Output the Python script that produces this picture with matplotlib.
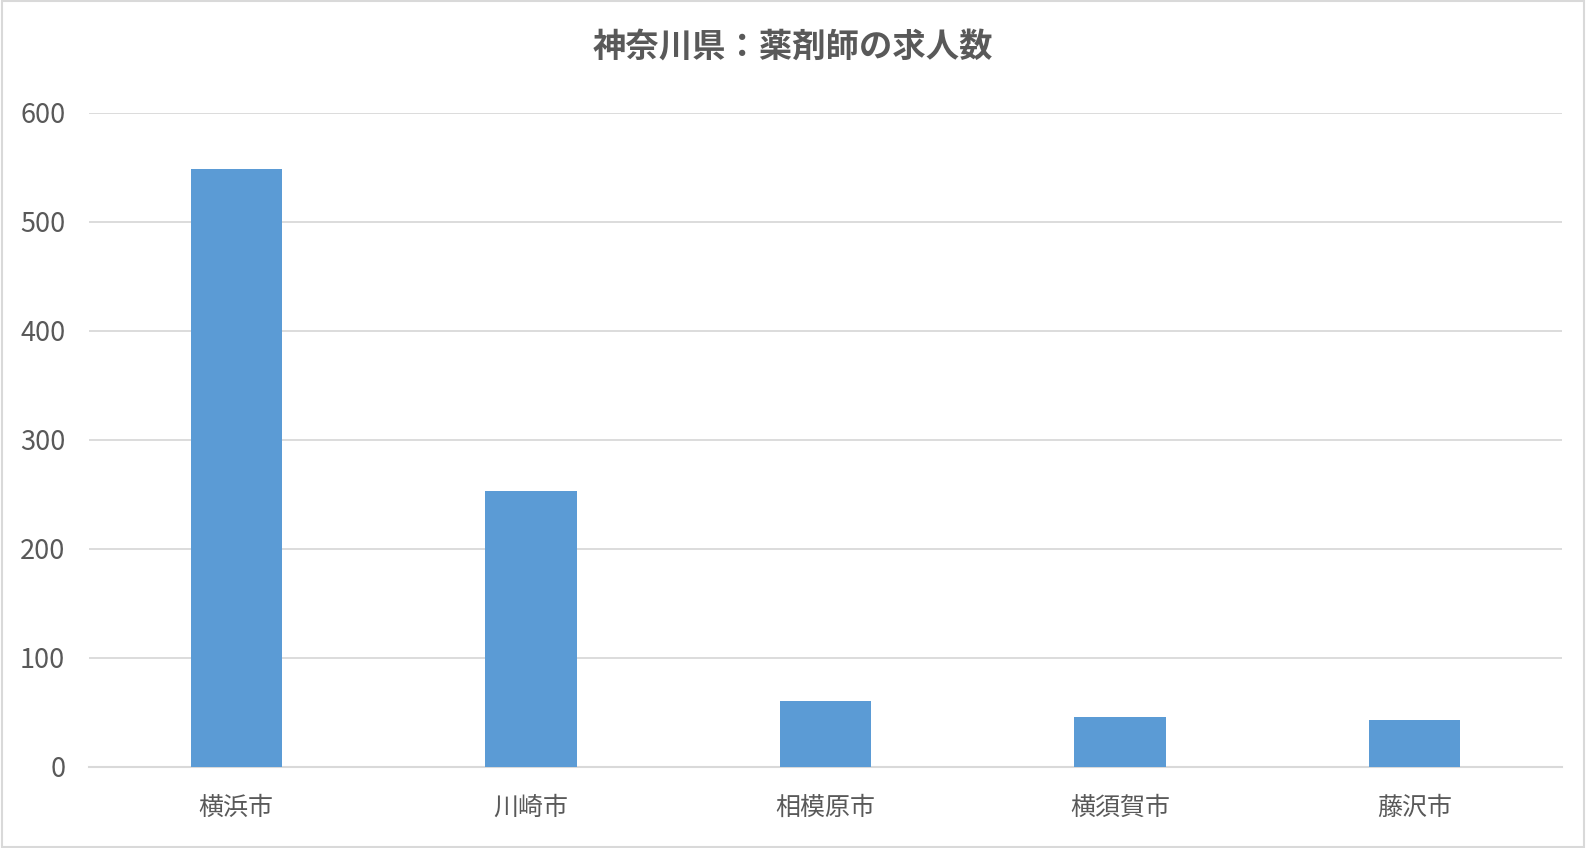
import matplotlib
matplotlib.use("Agg")
import matplotlib.pyplot as plt
from matplotlib.patches import Rectangle

plt.rcParams['font.family'] = ['Noto Sans CJK JP', 'DejaVu Sans']

# data
cities = ['横浜市', '川崎市', '相模原市', '横須賀市', '藤沢市']
job_counts = [548, 253, 60, 46, 43]
y_ticks = [0, 100, 200, 300, 400, 500, 600]
title = '神奈川県：薬剤師の求人数'

bar_color = '#5B9BD5'
grid_color = '#D9D9D9'
text_color = '#595959'

fig = plt.figure(figsize=(15.86, 8.48), dpi=100)
ax = fig.add_axes([0.0561, 0.0959, 0.9288, 0.7712])

x = range(len(cities))
ax.bar(x, job_counts, width=0.31, color=bar_color, zorder=3)

ax.set_xlim(-0.5, len(cities) - 0.5)
ax.set_ylim(0, 600)
ax.set_yticks(y_ticks)
ax.set_xticks(list(x))
ax.set_xticklabels(cities)

ax.grid(axis='y', color=grid_color, linewidth=1.3, zorder=0)
for side in ['top', 'right', 'left']:
    ax.spines[side].set_visible(False)
ax.spines['bottom'].set_color(grid_color)
ax.spines['bottom'].set_linewidth(1.5)

ax.tick_params(axis='x', length=0, labelsize=18, colors=text_color, pad=20)
ax.tick_params(axis='y', length=0, labelsize=19.5, colors=text_color, pad=17)

fig.text(0.5, 0.944, title, ha='center', va='center', fontsize=24,
         fontweight='bold', color=text_color)

# light frame around the whole chart
fig.patches.append(Rectangle((0.001, 0.001), 0.998, 0.998, transform=fig.transFigure,
                             fill=False, edgecolor=grid_color, linewidth=1.5))

fig.savefig('out.png', dpi=100, facecolor='white')
